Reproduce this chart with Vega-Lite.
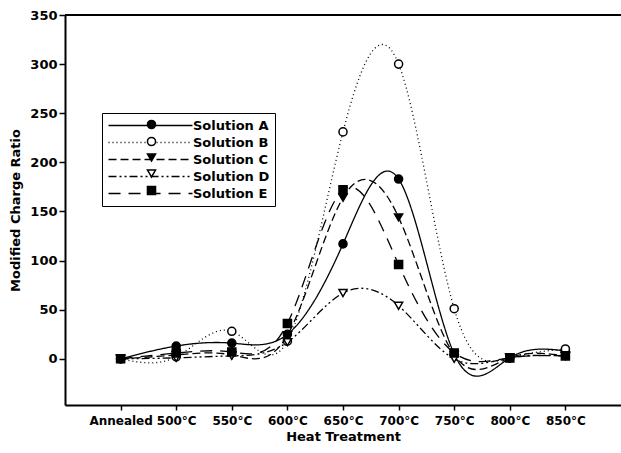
{
  "$schema": "https://vega.github.io/schema/vega-lite/v6.json",
  "width": 556,
  "height": 390,
  "autosize": {"type": "none"},
  "padding": {"left": 65, "top": 15, "right": 0, "bottom": 48},
  "background": "white",
  "config": {"view": {"stroke": null}, "font": "DejaVu Sans"},
  "data": {
    "values": [
      {"treatment": "Annealed", "series": "Solution A", "value": 0},
      {"treatment": "500°C", "series": "Solution A", "value": 13},
      {"treatment": "550°C", "series": "Solution A", "value": 16},
      {"treatment": "600°C", "series": "Solution A", "value": 25},
      {"treatment": "650°C", "series": "Solution A", "value": 117},
      {"treatment": "700°C", "series": "Solution A", "value": 183},
      {"treatment": "750°C", "series": "Solution A", "value": 5},
      {"treatment": "800°C", "series": "Solution A", "value": 1},
      {"treatment": "850°C", "series": "Solution A", "value": 8},
      {"treatment": "Annealed", "series": "Solution B", "value": 0},
      {"treatment": "500°C", "series": "Solution B", "value": 2},
      {"treatment": "550°C", "series": "Solution B", "value": 28},
      {"treatment": "600°C", "series": "Solution B", "value": 18},
      {"treatment": "650°C", "series": "Solution B", "value": 231},
      {"treatment": "700°C", "series": "Solution B", "value": 300},
      {"treatment": "750°C", "series": "Solution B", "value": 51},
      {"treatment": "800°C", "series": "Solution B", "value": 1},
      {"treatment": "850°C", "series": "Solution B", "value": 10},
      {"treatment": "Annealed", "series": "Solution C", "value": 0},
      {"treatment": "500°C", "series": "Solution C", "value": 4},
      {"treatment": "550°C", "series": "Solution C", "value": 4},
      {"treatment": "600°C", "series": "Solution C", "value": 24},
      {"treatment": "650°C", "series": "Solution C", "value": 164},
      {"treatment": "700°C", "series": "Solution C", "value": 144},
      {"treatment": "750°C", "series": "Solution C", "value": 4},
      {"treatment": "800°C", "series": "Solution C", "value": 1},
      {"treatment": "850°C", "series": "Solution C", "value": 3},
      {"treatment": "Annealed", "series": "Solution D", "value": 0},
      {"treatment": "500°C", "series": "Solution D", "value": 1},
      {"treatment": "550°C", "series": "Solution D", "value": 3},
      {"treatment": "600°C", "series": "Solution D", "value": 17},
      {"treatment": "650°C", "series": "Solution D", "value": 67},
      {"treatment": "700°C", "series": "Solution D", "value": 54},
      {"treatment": "750°C", "series": "Solution D", "value": 0},
      {"treatment": "800°C", "series": "Solution D", "value": 1},
      {"treatment": "850°C", "series": "Solution D", "value": 3},
      {"treatment": "Annealed", "series": "Solution E", "value": 0},
      {"treatment": "500°C", "series": "Solution E", "value": 6},
      {"treatment": "550°C", "series": "Solution E", "value": 7},
      {"treatment": "600°C", "series": "Solution E", "value": 36},
      {"treatment": "650°C", "series": "Solution E", "value": 172},
      {"treatment": "700°C", "series": "Solution E", "value": 96},
      {"treatment": "750°C", "series": "Solution E", "value": 6},
      {"treatment": "800°C", "series": "Solution E", "value": 1},
      {"treatment": "850°C", "series": "Solution E", "value": 3}
    ]
  },
  "layer": [
    {
      "mark": {"type": "line", "interpolate": "natural", "color": "black", "strokeWidth": 1.3},
      "encoding": {
        "x": {
          "field": "treatment",
          "type": "ordinal",
          "sort": ["Annealed", "500°C", "550°C", "600°C", "650°C", "700°C", "750°C", "800°C", "850°C"],
          "scale": {"type": "point", "padding": 1},
          "axis": {
            "title": "Heat Treatment",
            "titleFont": "DejaVu Sans",
            "titleFontWeight": "bold",
            "titleFontSize": 13,
            "titleColor": "black",
            "titlePadding": 4,
            "labelFont": "DejaVu Sans",
            "labelFontWeight": "bold",
            "labelFontSize": 12,
            "labelColor": "black",
            "labelAngle": 0,
            "labelPadding": 5,
            "labelOverlap": false,
            "domainColor": "black",
            "domainWidth": 2,
            "tickColor": "black",
            "tickWidth": 1.5,
            "tickSize": 5,
            "grid": false
          }
        },
        "y": {
          "field": "value",
          "type": "quantitative",
          "scale": {"domain": [-47, 350], "nice": false, "zero": false},
          "axis": {
            "title": "Modified Charge Ratio",
            "values": [0, 50, 100, 150, 200, 250, 300, 350],
            "titleFont": "DejaVu Sans",
            "titleFontWeight": "bold",
            "titleFontSize": 13,
            "titleColor": "black",
            "titlePadding": 7,
            "labelFont": "DejaVu Sans",
            "labelFontWeight": "bold",
            "labelFontSize": 13,
            "labelColor": "black",
            "labelPadding": 2,
            "domainColor": "black",
            "domainWidth": 2,
            "tickColor": "black",
            "tickWidth": 1.5,
            "tickSize": 6,
            "grid": false
          }
        },
        "strokeDash": {
          "field": "series",
          "type": "nominal",
          "scale": {"range": [[1, 0], [1, 3], [8, 4], [8, 3, 2, 3, 2, 3], [12, 8]]},
          "legend": {
            "orient": "none",
            "legendX": 37,
            "legendY": 98,
            "title": null,
            "padding": 5,
            "strokeColor": "black",
            "fillColor": "white",
            "symbolType": "M-0.92,0H12",
            "symbolSize": 169,
            "symbolStrokeWidth": 1.5,
            "symbolStrokeColor": "black",
            "labelFont": "DejaVu Sans",
            "labelFontWeight": "bold",
            "labelFontSize": 13,
            "labelColor": "black",
            "labelOffset": 71,
            "rowPadding": 2
          }
        }
      }
    },
    {
      "mark": {"type": "point", "filled": true, "strokeWidth": 1.5, "size": 65, "opacity": 1},
      "encoding": {
        "x": {"field": "treatment", "type": "ordinal", "sort": ["Annealed", "500°C", "550°C", "600°C", "650°C", "700°C", "750°C", "800°C", "850°C"]},
        "y": {"field": "value", "type": "quantitative"},
        "shape": {
          "field": "series",
          "type": "nominal",
          "scale": {
            "domain": ["Solution A", "Solution B", "Solution C", "Solution D", "Solution E"],
            "range": ["circle", "circle", "triangle-down", "triangle-down", "square"]
          },
          "legend": {
            "orient": "none",
            "legendX": 80,
            "legendY": 103,
            "title": null,
            "padding": 0,
            "symbolSize": 65,
            "symbolStrokeWidth": 1.5,
            "labelFont": "DejaVu Sans",
            "labelFontWeight": "bold",
            "labelFontSize": 13,
            "labelExpr": "' '",
            "rowPadding": 2
          }
        },
        "fill": {
          "field": "series",
          "type": "nominal",
          "scale": {
            "domain": ["Solution A", "Solution B", "Solution C", "Solution D", "Solution E"],
            "range": ["black", "white", "black", "white", "black"]
          },
          "legend": {
            "orient": "none",
            "legendX": 80,
            "legendY": 103,
            "title": null,
            "padding": 0,
            "symbolSize": 65,
            "symbolStrokeWidth": 1.5,
            "labelFont": "DejaVu Sans",
            "labelFontWeight": "bold",
            "labelFontSize": 13,
            "labelExpr": "' '",
            "rowPadding": 2
          }
        },
        "stroke": {
          "field": "series",
          "type": "nominal",
          "scale": {
            "domain": ["Solution A", "Solution B", "Solution C", "Solution D", "Solution E"],
            "range": ["black", "black", "black", "black", "black"]
          },
          "legend": {
            "orient": "none",
            "legendX": 80,
            "legendY": 103,
            "title": null,
            "padding": 0,
            "symbolSize": 65,
            "symbolStrokeWidth": 1.5,
            "labelFont": "DejaVu Sans",
            "labelFontWeight": "bold",
            "labelFontSize": 13,
            "labelExpr": "' '",
            "rowPadding": 2
          }
        }
      }
    },
    {
      "mark": {"type": "rule", "color": "black", "strokeWidth": 2},
      "encoding": {"y": {"datum": 350}}
    }
  ]
}
